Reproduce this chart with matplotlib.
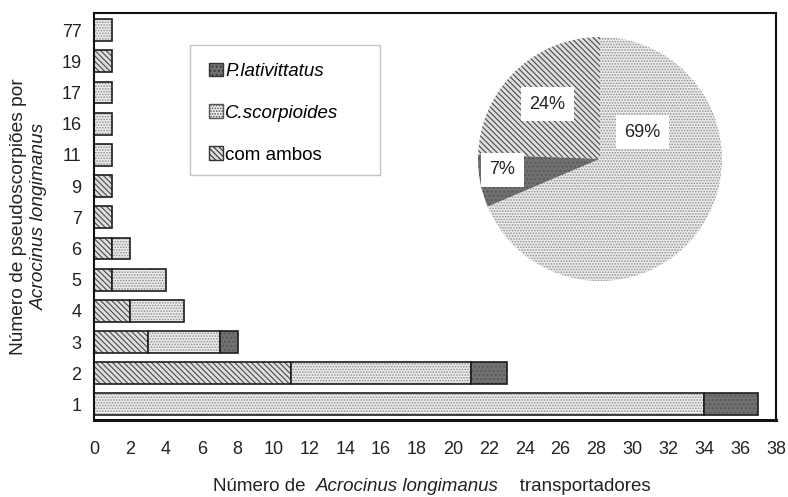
import numpy as np
import matplotlib
matplotlib.use("Agg")
import matplotlib.pyplot as plt
from matplotlib.patches import Patch, Rectangle
from matplotlib.offsetbox import TextArea, HPacker, AnchoredOffsetbox

plt.rcParams['font.family'] = ['Liberation Sans', 'DejaVu Sans']
plt.rcParams['hatch.linewidth'] = 0.8

# pseudoscorpions per beetle (y categories) and number of beetles per group
n_pseudo = ["1", "2", "3", "4", "5", "6", "7", "9", "11", "16", "17", "19", "77"]
com_ambos = [0, 11, 3, 2, 1, 1, 1, 1, 0, 0, 0, 1, 0]
c_scorp = [34, 10, 4, 3, 3, 1, 0, 0, 1, 1, 1, 0, 1]
p_lati = [3, 2, 1, 0, 0, 0, 0, 0, 0, 0, 0, 0, 0]

labels = ["P.lativittatus", "C.scorpioides", "com ambos"]

# fill / hatch style per group
sty_ambos = dict(color="#dedede", edgecolor="#4a4a4a", hatch="\\\\\\\\\\\\")
sty_cs = dict(color="#ececec", edgecolor="#8c8c8c", hatch="......")
sty_pl = dict(color="#707070", edgecolor="#555555", hatch="....")

txt = "#222222"

fig = plt.figure(figsize=(7.88, 4.97), dpi=100)
ax = fig.add_axes([0.1193, 0.155, 0.8655, 0.8188])

y = np.arange(len(n_pseudo))
a = np.array(com_ambos)
c = np.array(c_scorp)
p = np.array(p_lati)
h = 0.7

for vals, left, st in [(a, np.zeros_like(a), sty_ambos), (c, a, sty_cs), (p, a + c, sty_pl)]:
    m = vals > 0
    ax.barh(y[m], vals[m], left=left[m], height=h, linewidth=0, **st)
    ax.barh(y[m], vals[m], left=left[m], height=h,
            fill=False, edgecolor="#1e1e1e", linewidth=1.2)

ax.set_xlim(0, 38)
ax.set_ylim(-0.5, len(n_pseudo) - 0.45)
ax.set_xticks(np.arange(0, 39, 2))
ax.set_yticks(y)
ax.set_yticklabels(n_pseudo)
ax.tick_params(axis="both", length=0, labelsize=13, colors=txt)
ax.tick_params(axis="x", pad=15)
ax.tick_params(axis="y", pad=9)
for s in ax.spines.values():
    s.set_linewidth(1.5)
    s.set_color("#111111")
ax.spines["bottom"].set_linewidth(2.2)

# legend with its own light frame
ax.add_patch(Rectangle((0.141, 0.602), 0.279, 0.319, transform=ax.transAxes,
                       fill=False, edgecolor="#c4c4c4", linewidth=1.0, zorder=3))
handles = [Patch(facecolor=sty_pl["color"], hatch=sty_pl["hatch"], edgecolor="#333333"),
           Patch(facecolor=sty_cs["color"], hatch=sty_cs["hatch"], edgecolor="#555555"),
           Patch(facecolor=sty_ambos["color"], hatch=sty_ambos["hatch"], edgecolor="#333333")]
leg = ax.legend(handles, labels, loc="upper left", bbox_to_anchor=(0.168, 0.878),
                frameon=False, fontsize=13.5, handlelength=0.75, handleheight=0.75,
                handletextpad=0.15, labelspacing=1.3, borderpad=0, borderaxespad=0)
for t in leg.get_texts()[:2]:
    t.set_style("italic")

# y label (two lines, second in italics)
fig.text(0.024, 0.565, "Número de pseudoscorpiões por", rotation=90,
         ha="center", va="center", fontsize=13.8, color=txt)
fig.text(0.05, 0.565, "Acrocinus longimanus", rotation=90, style="italic",
         ha="center", va="center", fontsize=13.8, color=txt)

# x label with mixed styles
parts = [TextArea("Número de ", textprops=dict(fontsize=13.5, color=txt)),
         TextArea("Acrocinus longimanus", textprops=dict(fontsize=13.5, style="italic", color=txt)),
         TextArea("   transportadores", textprops=dict(fontsize=13.5, color=txt))]
box = HPacker(children=parts, pad=0, sep=4, align="baseline")
anch = AnchoredOffsetbox(loc="center", child=box, frameon=False, pad=0,
                         bbox_to_anchor=(0.548, 0.022), bbox_transform=fig.transFigure,
                         borderpad=0)
fig.add_artist(anch)

# pie of totals per group
pie_vals = [a.sum(), p.sum(), c.sum()]
pax = fig.add_axes([0.6066, 0.4346, 0.3096, 0.491])
wedges, _ = pax.pie(pie_vals, startangle=90, counterclock=True, radius=1.0)
for w, st in zip(wedges, [sty_ambos, sty_pl, sty_cs]):
    w.set_facecolor(st["color"])
    w.set_edgecolor(st["edgecolor"])
    w.set_hatch(st["hatch"])
    w.set_linewidth(0)
pax.set_xlim(-1.0, 1.0)
pax.set_ylim(-1.0, 1.0)
pax.set_aspect("auto")

pct = [round(100 * v / sum(pie_vals)) for v in pie_vals]
pos = [(-0.43, 0.45), (-0.80, -0.09), (0.35, 0.22)]
for (px, py), v in zip(pos, pct):
    pax.text(px, py, f"{v}%", ha="center", va="center", fontsize=13, color=txt,
             bbox=dict(facecolor="white", edgecolor="none", pad=6))

fig.savefig("out.png", dpi=100)
